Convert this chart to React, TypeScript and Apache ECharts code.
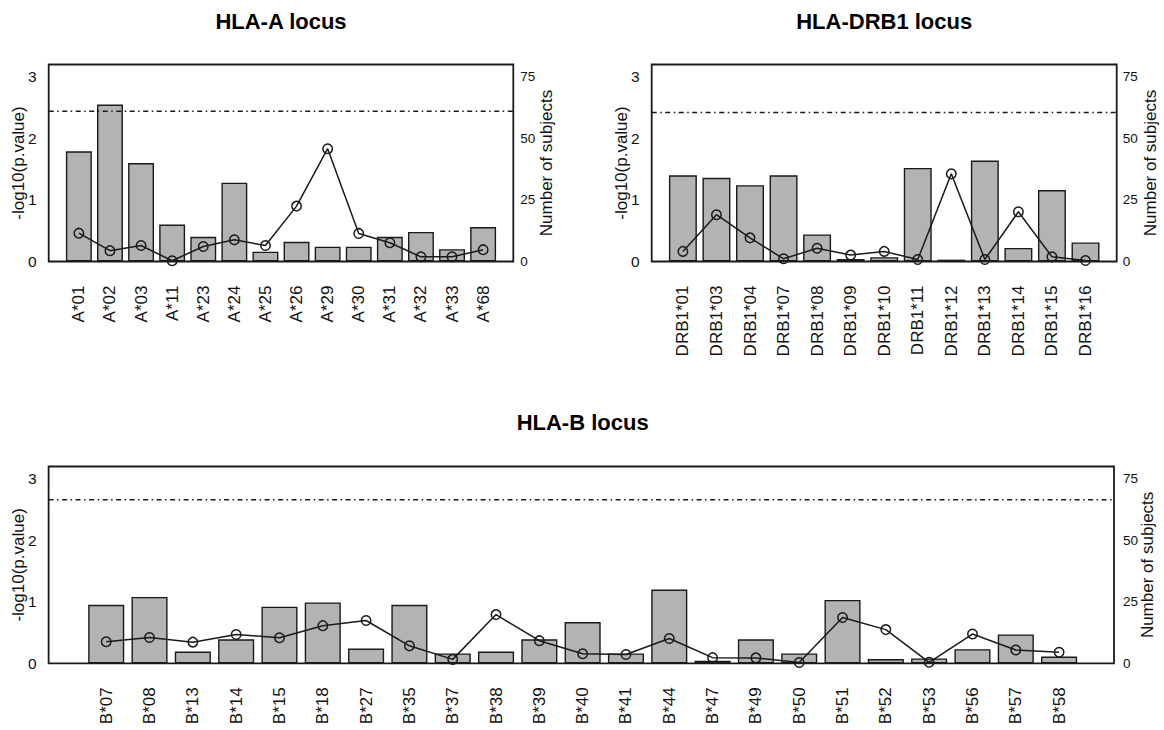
import { useEffect, useRef } from 'react';
import * as echarts from 'echarts';

// ---------- data ----------
const A_ALLELES = ['A*01', 'A*02', 'A*03', 'A*11', 'A*23', 'A*24', 'A*25', 'A*26', 'A*29', 'A*30', 'A*31', 'A*32', 'A*33', 'A*68'];
const A_LOGP = [1.79, 2.55, 1.6, 0.6, 0.4, 1.28, 0.16, 0.32, 0.24, 0.24, 0.4, 0.48, 0.2, 0.56];
const A_SUBJECTS = [11.5, 4.4, 6.5, 0.3, 6.1, 8.8, 6.5, 22.5, 45.8, 11.4, 7.6, 1.9, 1.9, 4.8];
const A_THRESHOLD = 2.44;

const DRB1_ALLELES = ['DRB1*01', 'DRB1*03', 'DRB1*04', 'DRB1*07', 'DRB1*08', 'DRB1*09', 'DRB1*10', 'DRB1*11', 'DRB1*12', 'DRB1*13', 'DRB1*14', 'DRB1*15', 'DRB1*16'];
const DRB1_LOGP = [1.4, 1.36, 1.24, 1.4, 0.44, 0.04, 0.07, 1.52, 0.03, 1.64, 0.22, 1.16, 0.31];
const DRB1_SUBJECTS = [4.1, 19, 9.6, 1.1, 5.4, 2.6, 4.1, 0.8, 35.6, 0.8, 20.2, 1.9, 0.4];
const DRB1_THRESHOLD = 2.42;

const B_ALLELES = ['B*07', 'B*08', 'B*13', 'B*14', 'B*15', 'B*18', 'B*27', 'B*35', 'B*37', 'B*38', 'B*39', 'B*40', 'B*41', 'B*44', 'B*47', 'B*49', 'B*50', 'B*51', 'B*52', 'B*53', 'B*56', 'B*57', 'B*58'];
const B_LOGP = [0.95, 1.08, 0.19, 0.39, 0.92, 0.99, 0.24, 0.95, 0.16, 0.19, 0.39, 0.67, 0.16, 1.2, 0.04, 0.39, 0.16, 1.03, 0.07, 0.08, 0.23, 0.47, 0.11];
const B_SUBJECTS = [8.75, 10.5, 8.6, 11.7, 10.4, 15.3, 17.4, 7.1, 1.6, 19.8, 9.2, 3.9, 3.6, 10.1, 2.3, 2.2, 0.3, 18.6, 13.7, 0.4, 11.9, 5.4, 4.5];
const B_THRESHOLD = 2.66;

const LEFT_TICKS = [0, 1, 2, 3];
const RIGHT_TICKS = [0, 25, 50, 75];
const P_MAX = 3.2;
const N_MAX = 80;

const TITLES = ['HLA-A locus', 'HLA-DRB1 locus', 'HLA-B locus'];
const LEFT_NAME = '-log10(p.value)';
const RIGHT_NAME = 'Number of subjects';

// ---------- layout / style ----------
const FONT = "'Liberation Sans', Arial, Helvetica, sans-serif";
const TEXT = '#111';
const INK = '#1a1a1a';
const BAR_FILL = '#b3b3b3';

const PANELS = [
  { title: TITLES[0], cats: A_ALLELES, logp: A_LOGP, subj: A_SUBJECTS, thr: A_THRESHOLD, left: 48.7, right: 513.3, top: 64.5, bottom: 261.5, titleY: 21, rMargin: 7 },
  { title: TITLES[1], cats: DRB1_ALLELES, logp: DRB1_LOGP, subj: DRB1_SUBJECTS, thr: DRB1_THRESHOLD, left: 651.7, right: 1116.7, top: 64.5, bottom: 261.5, titleY: 21, rMargin: 6 },
  { title: TITLES[2], cats: B_ALLELES, logp: B_LOGP, subj: B_SUBJECTS, thr: B_THRESHOLD, left: 48.6, right: 1116.7, top: 466.5, bottom: 663.3, titleY: 422, rMargin: 9 },
];

function buildOption() {
  const grid: any[] = [];
  const xAxis: any[] = [];
  const yAxis: any[] = [];
  const series: any[] = [];
  const graphic: any[] = [];

  PANELS.forEach((p) => {
    const n = p.cats.length;
    // R barplot geometry: bars of width 1, space 0.2, xlim extended by 4%
    const span = 1.2 * n - 0.2;
    const usrMin = 0.2 - 0.04 * span;
    const usrMax = 1.2 * n + 0.04 * span;
    const fw = p.right - p.left;
    const ppu = fw / (usrMax - usrMin);
    const inset = (0.1 - usrMin) * ppu;
    const h = p.bottom - p.top;

    const fg = grid.length;
    grid.push({ left: p.left, top: p.top, width: fw, height: h, show: true, borderColor: INK, borderWidth: 1.8, backgroundColor: 'transparent', containLabel: false, z: 5 });
    const dg = grid.length;
    grid.push({ left: p.left + inset, top: p.top, width: fw - 2 * inset, height: h, show: false, containLabel: false });

    const fx = xAxis.length;
    xAxis.push({ gridIndex: fg, type: 'value', min: 0, max: 1, show: false });
    const dx = xAxis.length;
    xAxis.push({
      gridIndex: dg,
      type: 'category',
      data: p.cats,
      boundaryGap: true,
      axisLine: { show: false },
      axisTick: { show: false },
      splitLine: { show: false },
      axisLabel: { rotate: 90, margin: 24, fontSize: 17, color: TEXT, fontFamily: FONT, interval: 0 },
    });

    const fyl = yAxis.length;
    yAxis.push({
      gridIndex: fg,
      type: 'value',
      position: 'left',
      min: 0,
      max: P_MAX,
      interval: 1,
      axisLine: { show: false },
      axisTick: { show: false },
      splitLine: { show: false },
      axisLabel: {
        customValues: LEFT_TICKS,
        margin: 12,
        fontSize: 15.5,
        color: TEXT,
        fontFamily: FONT,
        formatter: (v: number) => (LEFT_TICKS.includes(v) ? String(v) : ''),
      },
      name: LEFT_NAME,
      nameLocation: 'middle',
      nameRotate: 90,
      nameGap: 22,
      nameMoveOverlap: false,
      nameTextStyle: { fontSize: 17, color: TEXT, fontFamily: FONT },
    });
    const fyr = yAxis.length;
    yAxis.push({
      gridIndex: fg,
      type: 'value',
      position: 'right',
      min: 0,
      max: N_MAX,
      interval: 25,
      axisLine: { show: false },
      axisTick: { show: false },
      splitLine: { show: false },
      axisLabel: {
        customValues: RIGHT_TICKS,
        margin: p.rMargin,
        fontSize: 13.5,
        color: TEXT,
        fontFamily: FONT,
        formatter: (v: number) => (RIGHT_TICKS.includes(v) ? String(v) : ''),
      },
      name: RIGHT_NAME,
      nameLocation: 'middle',
      nameRotate: 90,
      nameGap: 25,
      nameMoveOverlap: false,
      nameTextStyle: { fontSize: 17, color: TEXT, fontFamily: FONT },
    });
    const dyl = yAxis.length;
    yAxis.push({ gridIndex: dg, type: 'value', position: 'left', min: 0, max: P_MAX, show: false, splitLine: { show: false } });
    const dyr = yAxis.length;
    yAxis.push({ gridIndex: dg, type: 'value', position: 'right', min: 0, max: N_MAX, show: false, splitLine: { show: false } });

    series.push({
      type: 'line',
      xAxisIndex: fx,
      yAxisIndex: fyl,
      data: [[0, p.thr], [1, p.thr]],
      symbol: 'none',
      silent: true,
      lineStyle: { color: INK, width: 1.4, type: [5, 3.5, 1.5, 3.5] },
      z: 3,
    });
    series.push({
      type: 'bar',
      xAxisIndex: dx,
      yAxisIndex: dyl,
      data: p.logp,
      barCategoryGap: '16.67%',
      itemStyle: { color: BAR_FILL, borderColor: INK, borderWidth: 1.4 },
      z: 2,
    });
    series.push({
      type: 'line',
      xAxisIndex: dx,
      yAxisIndex: dyr,
      data: p.subj,
      symbol: 'circle',
      symbolSize: 9.5,
      clip: false,
      itemStyle: { color: 'transparent', borderColor: INK, borderWidth: 1.5 },
      lineStyle: { color: INK, width: 1.5 },
      z: 4,
    });

    graphic.push({
      type: 'text',
      x: (p.left + p.right) / 2,
      y: p.titleY,
      style: {
        text: p.title,
        fill: '#000',
        font: `bold 22px ${FONT}`,
        textAlign: 'center',
        textVerticalAlign: 'middle',
      },
    });
  });

  return {
    animation: false,
    backgroundColor: '#ffffff',
    textStyle: { fontFamily: FONT },
    grid,
    xAxis,
    yAxis,
    series,
    graphic,
  };
}

export default function App() {
  const ref = useRef<HTMLDivElement>(null);
  useEffect(() => {
    if (!ref.current) return;
    const chart = echarts.init(ref.current, undefined, { renderer: 'svg' });
    chart.setOption(buildOption() as any);
    return () => chart.dispose();
  }, []);
  return <div ref={ref} style={{ position: 'absolute', left: 0, top: 0, width: 1164, height: 730 }} />;
}
